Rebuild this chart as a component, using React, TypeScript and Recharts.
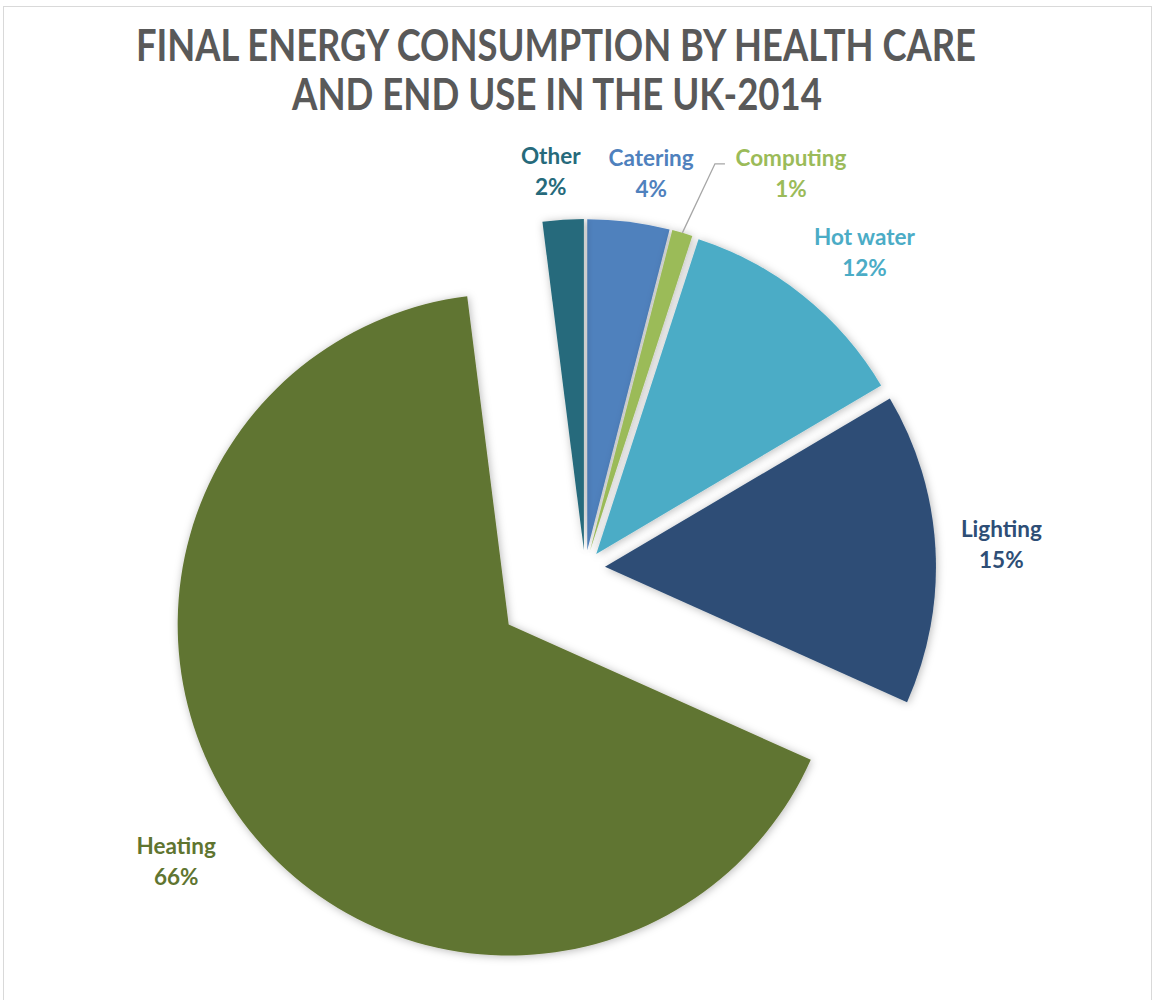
import React from 'react';
import { PieChart, Pie, Cell } from 'recharts';

// ---- data ----
const categories = ['Catering', 'Computing', 'Hot water', 'Lighting', 'Heating', 'Other'];
const shares = [4.0, 1.0, 11.5, 15.2, 66.3, 2.0];
const titleLines = ['FINAL ENERGY CONSUMPTION BY HEALTH CARE', 'AND END USE IN THE UK-2014'];

// ---- style ----
const sliceColors = ['#4F81BD', '#9BBB59', '#4BACC6', '#2E4E76', '#617431', '#266A7B'];
const labelColors = ['#4F81BD', '#9BBB59', '#4BACC6', '#2E4E76', '#5F7530', '#266A7B'];
const explode = [18, 18, 18, 20, 95, 18];
// label placement relative to each slice: extra radial distance beyond the outer radius, angle tweak (deg, clockwise)
const labelPlace = [
  { extra: 52, adj: 2.4 },
  { extra: 97, adj: 11.8 },
  { extra: 73, adj: 2.9 },
  { extra: 66, adj: 0 },
  { extra: 77, adj: 1.1 },
  { extra: 49, adj: -1.4 },
];
const W = 1155;
const H = 1000;
const CX = 585;
const CY = 568;
const R = 331;
const FONT = 'Lato, "Open Sans", sans-serif';

const data = categories.map((name, i) => ({ name, value: shares[i] }));
const total = shares.reduce((a, b) => a + b, 0);
const midAngles = shares.map((v, i) => {
  const before = shares.slice(0, i).reduce((a, b) => a + b, 0);
  return ((before + v / 2) / total) * 360; // clockwise from 12 o'clock
});

const RAD = Math.PI / 180;

function makeLabel(k: number) {
  return (props: any) => {
    if (props.index !== k) return null;
    const { cx, cy, midAngle, outerRadius, value } = props;
    const theta = 90 - midAngle + labelPlace[k].adj; // clockwise from top
    const d = outerRadius + labelPlace[k].extra;
    const x = cx + d * Math.sin(theta * RAD);
    const y = cy - d * Math.cos(theta * RAD);
    const pct = Math.round((value / total) * 100) + '%';
    const col = labelColors[k];
    let line = null;
    if (categories[k] === 'Computing') {
      const th0 = 90 - midAngle;
      const sx = cx + outerRadius * Math.sin(th0 * RAD);
      const sy = cy - outerRadius * Math.cos(th0 * RAD);
      const ex = x - 66;
      const ey = y - 9;
      line = (
        <polyline
          points={`${sx},${sy} ${ex - 10},${ey} ${ex},${ey}`}
          fill="none"
          stroke="#a6a6a6"
          strokeWidth={1.3}
        />
      );
    }
    return (
      <g>
        {line}
        <text
          x={x}
          y={y - 15.5}
          textAnchor="middle"
          dominantBaseline="central"
          fill={col}
          fontFamily={FONT}
          fontWeight={700}
          fontSize={22.5}
        >
          {props.name}
        </text>
        <text
          x={x}
          y={y + 15.5}
          textAnchor="middle"
          dominantBaseline="central"
          fill={col}
          fontFamily={FONT}
          fontWeight={700}
          fontSize={22.5}
        >
          {pct}
        </text>
      </g>
    );
  };
}

export default function App() {
  return (
    <div style={{ position: 'absolute', left: 0, top: 0, width: W, height: H, background: '#fff' }}>
      <svg width={0} height={0} style={{ position: 'absolute' }}>
        <defs>
          <filter id="sliceShadow" x="-20%" y="-20%" width="140%" height="140%">
            <feGaussianBlur in="SourceAlpha" stdDeviation="4" />
            <feOffset dx="1" dy="1" result="blur" />
            <feFlood floodColor="#000" floodOpacity="0.28" />
            <feComposite in2="blur" operator="in" />
            <feMerge>
              <feMergeNode />
              <feMergeNode in="SourceGraphic" />
            </feMerge>
          </filter>
        </defs>
      </svg>
      <div
        style={{
          position: 'absolute',
          left: 3,
          top: 6,
          width: W - 6,
          height: H,
          borderLeft: '1px solid #d9d9d9',
          borderTop: '1px solid #d9d9d9',
          borderRight: '1px solid #d9d9d9',
          boxSizing: 'border-box',
        }}
      />
      <div style={{ position: 'absolute', left: 0, top: 0 }}>
        <PieChart width={W} height={H} margin={{ top: 0, right: 0, bottom: 0, left: 0 }}>
          {categories.map((cat, k) => {
            const th = midAngles[k] * RAD;
            const pcx = CX + explode[k] * Math.sin(th);
            const pcy = CY - explode[k] * Math.cos(th);
            return (
              <Pie
                key={cat}
                data={data}
                dataKey="value"
                nameKey="name"
                cx={pcx}
                cy={pcy}
                outerRadius={R}
                innerRadius={0}
                startAngle={90}
                endAngle={-270}
                stroke="none"
                isAnimationActive={false}
                label={makeLabel(k)}
                labelLine={false}
              >
                {data.map((d, i) => (
                  <Cell
                    key={d.name}
                    fill={i === k ? sliceColors[i] : 'none'}
                    stroke="none"
                    filter={i === k ? 'url(#sliceShadow)' : undefined}
                  />
                ))}
              </Pie>
            );
          })}
        </PieChart>
      </div>
      <svg width={W} height={130} style={{ position: 'absolute', left: 0, top: 0 }}>
        <text
          x={556}
          y={61}
          textAnchor="middle"
          textLength={840}
          lengthAdjust="spacingAndGlyphs"
          fontFamily={FONT}
          fontWeight={700}
          fontSize={43}
          fill="#595959"
        >
          {titleLines[0]}
        </text>
        <text
          x={557}
          y={110}
          textAnchor="middle"
          textLength={530}
          lengthAdjust="spacingAndGlyphs"
          fontFamily={FONT}
          fontWeight={700}
          fontSize={43}
          fill="#595959"
        >
          {titleLines[1]}
        </text>
      </svg>
    </div>
  );
}
